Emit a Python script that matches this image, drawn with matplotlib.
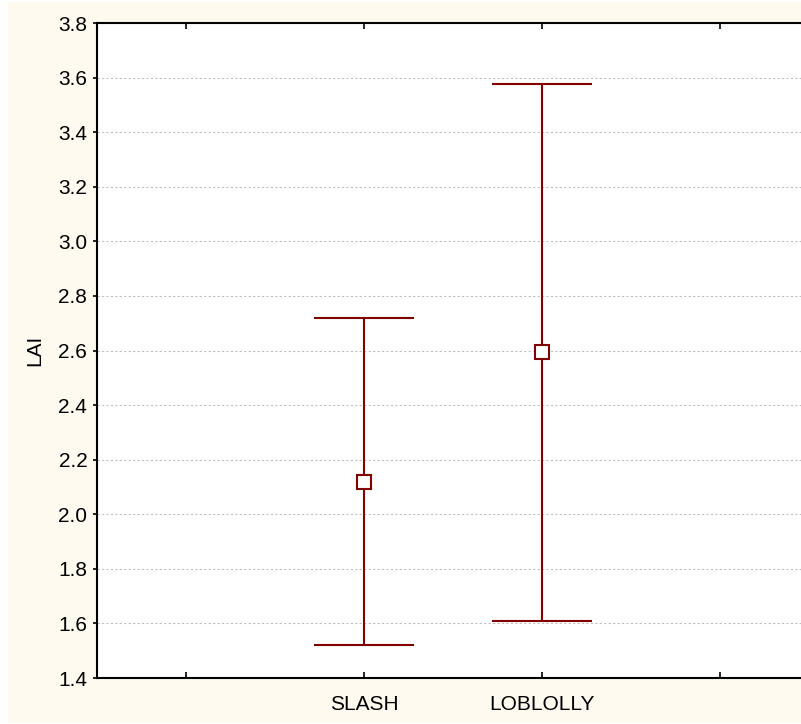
import matplotlib.pyplot as plt
from matplotlib.patches import Rectangle

plt.rcParams['font.family'] = ['Liberation Sans', 'DejaVu Sans']

# data
groups = ['SLASH', 'LOBLOLLY']
group_pos = [1, 2]
means = [2.12, 2.595]
upper = [2.72, 3.575]
lower = [1.52, 1.61]

tick_pos = [0, 1, 2, 3]
tick_labels = ['', 'SLASH', 'LOBLOLLY', '']
y_ticks = [1.4, 1.6, 1.8, 2.0, 2.2, 2.4, 2.6, 2.8, 3.0, 3.2, 3.4, 3.6, 3.8]

dark_red = '#800000'

fig = plt.figure(figsize=(8.01, 7.24), dpi=100)
fig.patch.set_facecolor('white')
fig.patches.append(Rectangle((8 / 801, 1 / 724), 1, 721 / 724, transform=fig.transFigure,
                             facecolor='#fffaf0', edgecolor='none', zorder=-10))

# plot area runs a little past the right edge of the picture
ax = fig.add_axes([97 / 801, 1 - 678 / 724, 712 / 801, (678 - 23) / 724])
ax.set_facecolor('white')

yerr = [[m - lo for m, lo in zip(means, lower)], [up - m for m, up in zip(means, upper)]]
ax.errorbar(group_pos, means, yerr=yerr, fmt='s', color=dark_red, ecolor=dark_red,
            elinewidth=1.5, capsize=36, capthick=1.5, markersize=10.5,
            markerfacecolor='white', markeredgecolor=dark_red, markeredgewidth=1.5, zorder=3)

ax.set_xlim(-0.5, 3.5)
ax.set_ylim(1.4, 3.8)
ax.set_xticks(tick_pos)
ax.set_xticklabels(tick_labels)
ax.set_yticks(y_ticks)
ax.set_yticklabels([f'{v:.1f}' for v in y_ticks])

ax.yaxis.grid(True, linestyle=(0, (2, 2)), color='#c0c0c0', linewidth=0.8)
ax.set_axisbelow(True)

for s in ax.spines.values():
    s.set_linewidth(1.5)
    s.set_color('black')

ax.tick_params(axis='x', direction='in', top=True, length=4, width=1.2, labelsize=15, pad=12)
ax.tick_params(axis='y', direction='out', length=3, width=1.2, labelsize=15, pad=4)
ax.set_ylabel('LAI', fontsize=15, labelpad=10)

fig.savefig('out.png', dpi=100, facecolor=fig.get_facecolor())
